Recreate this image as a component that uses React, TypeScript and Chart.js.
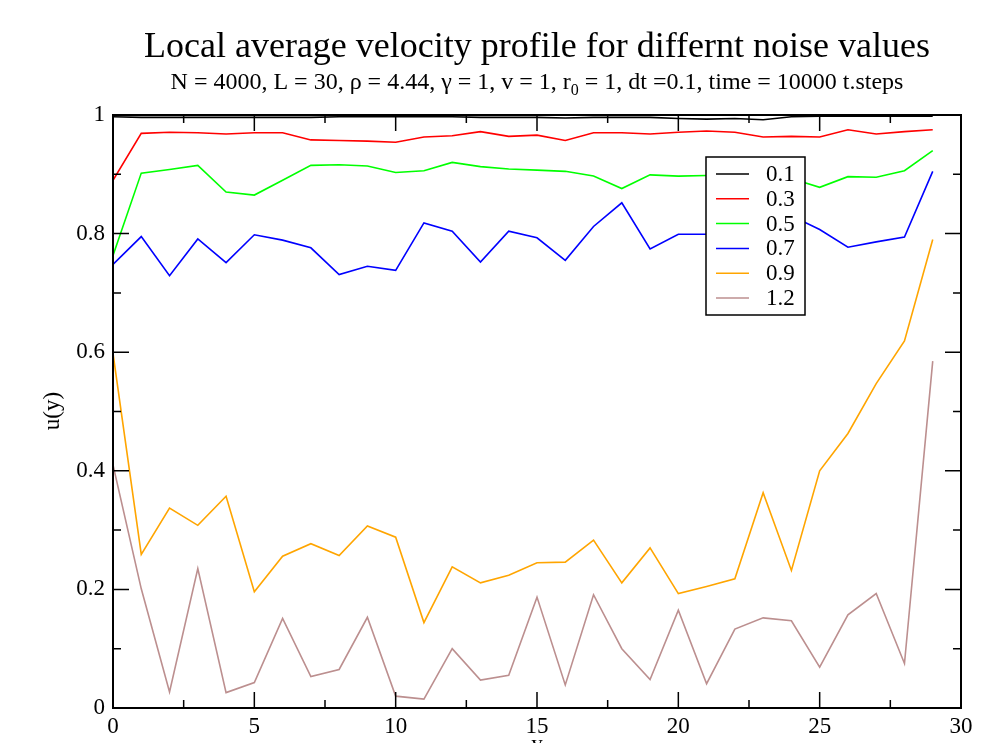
import React, { useEffect, useRef } from "react";
import { Chart, registerables } from "chart.js";

Chart.register(...registerables);

const xValues = [0, 1, 2, 3, 4, 5, 6, 7, 8, 9, 10, 11, 12, 13, 14, 15, 16, 17, 18, 19, 20, 21, 22, 23, 24, 25, 26, 27, 28, 29];

const noise01 = [0.997, 0.996, 0.996, 0.996, 0.996, 0.996, 0.996, 0.996, 0.997, 0.997, 0.997, 0.997, 0.997, 0.996, 0.996, 0.996, 0.995, 0.996, 0.996, 0.996, 0.994, 0.993, 0.994, 0.992, 0.997, 0.998, 0.998, 0.998, 0.998, 0.998];
const noise03 = [0.890, 0.969, 0.971, 0.970, 0.968, 0.970, 0.970, 0.958, 0.957, 0.956, 0.954, 0.963, 0.965, 0.972, 0.964, 0.966, 0.957, 0.970, 0.970, 0.968, 0.971, 0.973, 0.971, 0.963, 0.964, 0.963, 0.975, 0.968, 0.972, 0.975];
const noise05 = [0.763, 0.902, 0.908, 0.915, 0.870, 0.865, 0.890, 0.915, 0.916, 0.914, 0.903, 0.906, 0.920, 0.913, 0.909, 0.907, 0.905, 0.897, 0.876, 0.899, 0.897, 0.898, 0.900, 0.893, 0.893, 0.878, 0.896, 0.895, 0.906, 0.940];
const noise07 = [0.748, 0.795, 0.729, 0.791, 0.751, 0.798, 0.789, 0.776, 0.731, 0.745, 0.738, 0.818, 0.804, 0.752, 0.804, 0.793, 0.755, 0.812, 0.852, 0.774, 0.799, 0.799, 0.800, 0.815, 0.830, 0.807, 0.777, 0.786, 0.794, 0.905];
const noise09 = [0.598, 0.259, 0.337, 0.308, 0.357, 0.196, 0.256, 0.277, 0.257, 0.307, 0.288, 0.144, 0.238, 0.211, 0.224, 0.245, 0.246, 0.283, 0.211, 0.270, 0.193, 0.205, 0.218, 0.363, 0.232, 0.400, 0.463, 0.547, 0.619, 0.790];
const noise12 = [0.410, 0.201, 0.027, 0.235, 0.026, 0.043, 0.151, 0.053, 0.065, 0.153, 0.020, 0.015, 0.100, 0.047, 0.055, 0.187, 0.039, 0.191, 0.100, 0.048, 0.165, 0.041, 0.133, 0.152, 0.147, 0.069, 0.157, 0.193, 0.075, 0.585];

const seriesLabels = ["0.1", "0.3", "0.5", "0.7", "0.9", "1.2"];
const seriesValues = [noise01, noise03, noise05, noise07, noise09, noise12];
const seriesColors = ["#000000", "#ff0000", "#00ff00", "#0000ff", "#ffa500", "#bc8f8f"];

const xTickValues = [0, 5, 10, 15, 20, 25, 30];
const xTickLabels = ["0", "5", "10", "15", "20", "25", "30"];
const xMinorTicks = [2.5, 7.5, 12.5, 17.5, 22.5, 27.5];
const yTickValues = [0, 0.2, 0.4, 0.6, 0.8, 1];
const yTickLabels = ["0", "0.2", "0.4", "0.6", "0.8", "1"];
const yMinorTicks = [0.1, 0.3, 0.5, 0.7, 0.9];

const titleText = "Local average velocity profile for differnt noise values";
const subtitleBefore = "N = 4000, L = 30, \u03c1 = 4.44, \u03b3 = 1, v = 1, r";
const subtitleSub = "0";
const subtitleAfter = " = 1, dt =0.1, time = 10000 t.steps";
const xAxisTitle = "y";
const yAxisTitle = "u(y)";

const FONT = "'Liberation Serif', 'Times New Roman', serif";

const framePlugin = {
  id: "gracePlot",
  afterDatasetsDraw(chart: any) {
    const { ctx, chartArea, scales } = chart;
    const { left, right, top, bottom } = chartArea;
    const xs = scales.x;
    const ys = scales.y;
    ctx.save();
    // legend
    const lx = 706, ly = 157, lw = 99, lh = 158;
    ctx.fillStyle = "#ffffff";
    ctx.fillRect(lx, ly, lw, lh);
    ctx.strokeStyle = "#000";
    ctx.lineWidth = 1.5;
    ctx.strokeRect(lx, ly, lw, lh);
    ctx.font = `23px ${FONT}`;
    ctx.textBaseline = "middle";
    ctx.textAlign = "left";
    seriesLabels.forEach((lab, i) => {
      const yy = 174 + i * 24.8;
      ctx.strokeStyle = seriesColors[i];
      ctx.lineWidth = 1.5;
      ctx.beginPath();
      ctx.moveTo(716, yy);
      ctx.lineTo(749, yy);
      ctx.stroke();
      ctx.fillStyle = "#000";
      ctx.fillText(lab, 766, yy + 1);
    });
    // ticks
    ctx.strokeStyle = "#000";
    ctx.lineWidth = 1.5;
    const major = 16, minor = 8;
    const vt = (v: number, len: number) => {
      const p = xs.getPixelForValue(v);
      ctx.beginPath();
      ctx.moveTo(p, bottom);
      ctx.lineTo(p, bottom - len);
      ctx.moveTo(p, top);
      ctx.lineTo(p, top + len);
      ctx.stroke();
    };
    const ht = (v: number, len: number) => {
      const p = ys.getPixelForValue(v);
      ctx.beginPath();
      ctx.moveTo(left, p);
      ctx.lineTo(left + len, p);
      ctx.moveTo(right, p);
      ctx.lineTo(right - len, p);
      ctx.stroke();
    };
    xTickValues.forEach((v) => vt(v, major));
    xMinorTicks.forEach((v) => vt(v, minor));
    yTickValues.forEach((v) => ht(v, major));
    yMinorTicks.forEach((v) => ht(v, minor));
    // frame
    ctx.lineWidth = 2;
    ctx.strokeRect(left, top, right - left, bottom - top);
    ctx.restore();
  },
  afterDraw(chart: any) {
    const { ctx, chartArea } = chart;
    const cx = (chartArea.left + chartArea.right) / 2;
    ctx.save();
    ctx.fillStyle = "#000";
    ctx.textBaseline = "alphabetic";
    ctx.textAlign = "center";
    ctx.font = `36px ${FONT}`;
    ctx.fillText(titleText, cx, 57);
    // subtitle with subscript
    ctx.textAlign = "left";
    const mainFont = `24px ${FONT}`;
    const subFont = `16px ${FONT}`;
    ctx.font = mainFont;
    const w1 = ctx.measureText(subtitleBefore).width;
    const w3 = ctx.measureText(subtitleAfter).width;
    ctx.font = subFont;
    const w2 = ctx.measureText(subtitleSub).width;
    let x0 = cx - (w1 + w2 + w3) / 2;
    const base = 89;
    ctx.font = mainFont;
    ctx.fillText(subtitleBefore, x0, base);
    x0 += w1;
    ctx.font = subFont;
    ctx.fillText(subtitleSub, x0, base + 6);
    x0 += w2;
    ctx.font = mainFont;
    ctx.fillText(subtitleAfter, x0, base);
    // axis titles
    ctx.font = `23px ${FONT}`;
    ctx.textAlign = "center";
    ctx.fillText(xAxisTitle, cx, 751);
    ctx.translate(53, 411);
    ctx.rotate(-Math.PI / 2);
    ctx.textBaseline = "middle";
    ctx.fillText(yAxisTitle, 0, 0);
    ctx.restore();
  },
};

export default function App() {
  const canvasRef = useRef<HTMLCanvasElement | null>(null);
  useEffect(() => {
    const canvas = canvasRef.current;
    if (!canvas) return;
    const tickFont = { family: FONT, size: 23 };
    const chart = new Chart(canvas, {
      type: "line",
      data: {
        datasets: seriesValues.map((vals, i) => ({
          label: seriesLabels[i],
          data: xValues.map((x, j) => ({ x, y: vals[j] })),
          borderColor: seriesColors[i],
          backgroundColor: seriesColors[i],
          borderWidth: 1.6,
          pointRadius: 0,
          tension: 0,
          fill: false,
        })),
      },
      options: {
        animation: false,
        responsive: false,
        devicePixelRatio: 1,
        layout: { padding: { top: 115, right: 28, bottom: 0, left: 0 } },
        plugins: {
          legend: { display: false },
          title: { display: false },
          tooltip: { enabled: false },
        },
        scales: {
          x: {
            type: "linear",
            min: 0,
            max: 30,
            afterFit: (s: any) => {
              s.height = 35;
            },
            afterBuildTicks: (s: any) => {
              s.ticks = xTickValues.map((v) => ({ value: v }));
            },
            grid: { display: false, drawTicks: false },
            border: { display: false },
            ticks: {
              font: tickFont,
              color: "#000",
              padding: 5,
              maxRotation: 0,
              autoSkip: false,
              callback: (_v: any, i: number) => xTickLabels[i],
            },
          },
          y: {
            type: "linear",
            min: 0,
            max: 1,
            afterFit: (s: any) => {
              s.width = 113;
            },
            afterBuildTicks: (s: any) => {
              s.ticks = yTickValues.map((v) => ({ value: v }));
            },
            grid: { display: false, drawTicks: false },
            border: { display: false },
            ticks: {
              font: tickFont,
              color: "#000",
              padding: 8,
              autoSkip: false,
              callback: (_v: any, i: number) => yTickLabels[i],
            },
          },
        },
      } as any,
      plugins: [framePlugin],
    });
    return () => chart.destroy();
  }, []);
  return (
    <div style={{ position: "fixed", left: 0, top: 0, width: 989, height: 743, background: "#fff" }}>
      <canvas ref={canvasRef} width={989} height={743} style={{ display: "block" }} />
    </div>
  );
}
